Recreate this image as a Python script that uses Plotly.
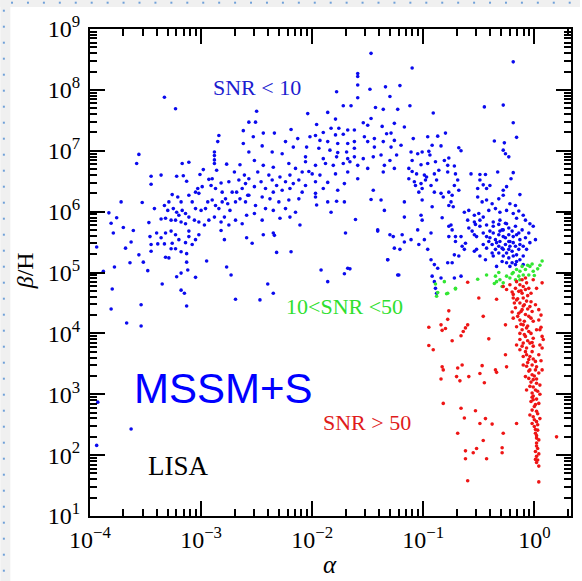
import plotly.graph_objects as go

# (log10 alpha, log10 beta/H)
blue_pts = [
    # upper-left sparse
    (-3.33,7.88),(-3.23,7.69),(-2.84,7.25),(-2.85,7.15),(-2.62,7.33),(-2.62,7.12),(-3.56,6.94),(-3.58,6.79),
    (-3.17,6.79),(-3.11,6.81),(-2.88,6.98),(-2.88,6.92),(-2.88,6.85),(-2.88,6.79),(-3.45,6.58),(-3.36,6.60),
    (-3.22,6.58),(-3.16,6.59),(-3.45,6.45),(-3.13,6.50),(-3.72,6.16),(-3.53,6.15),(-3.83,5.98),(-3.76,5.90),
    (-3.81,5.81),(-3.70,5.74),(-3.42,6.05),(-3.47,5.82),(-3.36,5.88),
    # left dense
    (-3.01,6.61),(-2.98,6.69),(-2.93,6.53),(-2.86,6.68),(-2.90,6.54),(-2.91,6.43),(-2.87,6.38),(-2.82,6.47),
    (-2.77,6.78),(-2.75,6.49),(-2.70,6.65),(-2.66,6.52),(-2.65,6.77),(-2.61,6.60),(-2.60,6.46),(-2.63,6.38),
    (-2.68,6.32),(-2.72,6.32),(-2.81,6.32),(-3.05,6.32),(-3.03,6.38),(-3.02,6.30),(-2.99,6.41),(-3.11,6.27),
    (-3.26,6.28),(-3.21,6.24),(-3.18,6.16),(-3.29,6.16),(-3.33,6.10),(-3.30,6.02),(-3.25,6.05),(-3.22,5.99),
    (-3.17,6.02),(-3.20,5.94),(-3.14,5.97),(-3.11,5.91),(-3.08,6.16),(-3.05,6.05),(-3.00,6.02),(-2.96,6.05),
    (-2.94,6.16),(-2.90,6.19),(-2.87,6.10),(-2.84,6.05),(-2.81,6.16),(-2.78,6.21),(-2.76,6.13),(-2.74,6.02),
    (-2.69,6.16),(-2.65,6.21),(-2.60,6.16),(-2.58,6.27),(-3.32,5.89),(-3.27,5.86),(-3.23,5.86),(-3.18,5.83),
    (-3.14,5.80),(-3.06,5.86),(-3.02,5.83),(-2.97,5.78),(-2.93,5.86),(-2.88,5.91),(-2.82,5.83),(-2.79,5.91),
    (-2.75,5.78),(-2.69,5.86),(-2.63,5.80),(-2.59,5.94),
    # lower-left
    (-3.79,5.65),(-3.61,5.69),(-3.46,5.59),(-3.40,5.65),(-3.36,5.57),(-3.32,5.65),(-3.27,5.68),(-3.23,5.62),
    (-3.26,5.48),(-3.20,5.54),(-3.14,5.49),(-3.11,5.59),(-3.08,5.46),(-3.05,5.54),(-3.02,5.62),(-3.11,5.68),
    (-3.45,5.46),(-3.39,5.47),(-3.33,5.47),(-3.45,5.35),(-3.27,5.39),(-3.32,5.25),(-3.29,5.24),(-3.13,5.31),
    (-3.18,5.34),(-3.23,5.39),(-3.94,5.42),(-3.68,5.40),(-3.63,5.50),(-3.56,5.29),(-3.52,5.17),(-3.78,5.09),
    (-3.64,5.16),(-3.88,5.02),(-3.48,5.03),(-3.35,4.81),(-3.22,4.93),(-3.18,4.99),(-3.12,5.04),(-3.13,5.17),
    (-3.05,4.92),(-2.95,5.19),(-3.18,4.71),(-3.15,4.66),(-3.80,4.73),(-3.13,4.45),(-3.54,4.47),(-3.81,4.40),
    (-3.67,4.17),(-3.54,4.12),(-2.77,5.09),(-2.73,4.96),(-2.69,4.56),(-2.79,5.54),(-2.82,5.69),(-2.59,5.57),
    (-3.93,2.87),(-3.63,2.43),(-3.94,2.16),
    # middle band
    (-1.47,8.60),(-1.59,8.27),(-1.59,8.22),(-1.59,8.08),(-1.48,8.01),(-1.78,7.97),(-1.34,8.05),(-1.21,8.07),
    (-1.30,7.89),(-1.59,7.87),(-1.72,7.74),(-1.65,7.74),(-1.43,7.71),(-1.36,7.68),(-1.23,7.68),(-2.50,7.65),
    (-2.04,7.61),(-1.86,7.63),(-1.79,7.52),(-1.47,7.53),(-2.57,7.47),(-2.51,7.47),(-1.96,7.43),(-1.54,7.46),
    (-1.50,7.42),(-1.37,7.40),(-1.26,7.45),(-1.17,7.39),(-1.83,7.37),(-1.76,7.37),(-1.68,7.34),(-1.62,7.34),
    (-2.19,7.35),(-1.90,7.30),(-1.79,7.26),(-1.72,7.27),(-1.33,7.28),(-1.29,7.29),(-2.44,7.29),(-2.34,7.29),
    (-2.02,7.23),(-1.97,7.25),(-1.53,7.23),(-1.44,7.20),(-2.53,7.23),(-2.13,7.20),(-1.93,7.17),(-1.86,7.15),
    (-1.77,7.12),(-1.68,7.12),(-1.62,7.15),(-1.50,7.15),(-1.36,7.15),(-1.26,7.17),(-2.45,7.08),(-2.24,7.15),
    (-2.17,7.06),(-2.05,7.06),(-1.94,7.04),(-1.84,7.01),(-1.77,6.97),(-1.69,6.98),(-1.62,7.04),(-1.44,7.06),
    (-1.29,7.06),(-1.20,7.09),(-2.57,6.98),(-2.36,6.98),(-2.27,6.95),(-2.06,6.90),(-1.90,6.87),(-1.78,6.90),
    (-1.68,6.87),(-1.62,6.90),(-1.54,6.87),(-1.45,6.90),(-1.38,6.93),(-1.30,6.84),(-1.24,6.93),(-2.52,6.84),
    (-2.44,6.76),(-2.35,6.73),(-2.21,6.79),(-2.15,6.71),(-2.06,6.82),(-1.97,6.76),(-1.88,6.79),(-1.81,6.76),
    (-1.72,6.79),(-1.66,6.82),(-1.59,6.76),(-1.50,6.71),(-1.35,6.76),(-1.26,6.71),(-1.36,6.65),(-2.49,6.65),
    (-2.39,6.60),(-2.29,6.57),(-2.20,6.60),(-2.09,6.65),(-2.03,6.66),(-2.00,6.62),(-1.93,6.60),(-1.79,6.62),
    (-1.68,6.65),(-2.57,6.54),(-2.46,6.49),(-2.36,6.52),(-2.32,6.43),(-2.24,6.49),(-2.17,6.46),(-2.12,6.52),
    (-2.06,6.43),(-1.97,6.49),(-1.86,6.48),(-1.71,6.46),(-1.59,6.54),(-2.52,6.41),(-2.42,6.38),(-2.35,6.32),
    (-2.27,6.35),(-2.20,6.38),(-2.09,6.32),(-1.97,6.30),(-1.90,6.38),(-1.77,6.35),(-1.45,6.35),(-2.57,6.27),
    (-2.45,6.24),(-2.38,6.21),(-2.30,6.16),(-2.21,6.19),(-2.12,6.21),(-1.97,6.24),(-1.86,6.16),(-1.78,6.17),
    (-1.71,6.16),(-1.47,6.20),(-1.38,6.19),(-1.17,6.16),(-2.51,6.10),(-2.42,6.05),(-2.35,6.02),(-2.24,6.05),
    (-2.15,5.99),(-1.96,6.11),(-1.83,5.99),(-1.35,6.02),(-2.52,5.97),(-2.45,5.86),(-2.29,5.89),(-2.20,5.91),
    (-2.11,5.78),(-1.61,5.87),(-1.17,5.91),
    # middle lower
    (-2.44,5.62),(-2.35,5.65),(-2.34,5.61),(-2.54,5.48),(-2.32,5.33),(-2.19,5.34),(-1.70,5.65),(-1.41,5.68),
    (-1.30,5.62),(-1.19,5.62),(-1.26,5.40),(-1.21,5.38),(-1.17,5.50),(-1.32,5.21),(-1.92,5.04),(-1.86,4.85),
    (-1.71,4.98),(-1.68,5.07),(-1.66,5.06),(-1.22,4.96),(-2.40,4.81),(-2.35,4.66),(-2.47,4.55),
    # right upper
    (-0.19,8.46),(-1.10,8.36),(-1.12,7.74),(-0.91,7.62),(-0.45,7.72),(-0.28,7.75),(-0.19,7.46),(-0.16,7.22),
    (-0.36,7.16),(-0.27,7.13),(-0.28,7.01),(-0.26,6.95),(-0.23,6.90),(-1.09,7.20),(-0.96,7.23),(-0.87,7.24),
    (-0.80,7.29),(-0.84,7.08),(-0.92,7.09),(-0.68,7.05),(-0.66,7.00),(-1.11,6.98),(-1.05,6.95),(-1.01,6.98),
    (-0.95,6.99),(-0.94,6.93),(-0.77,6.88),(-0.81,6.84),(-1.10,6.84),(-1.02,6.77),(-0.96,6.79),(-0.89,6.82),
    (-0.78,6.76),(-0.72,6.75),(-1.13,6.71),(-1.10,6.66),(-1.06,6.62),(-0.99,6.60),(-0.97,6.57),(-0.90,6.62),
    (-0.86,6.68),(-0.78,6.65),(-0.71,6.62),(-0.57,6.62),(-0.49,6.61),(-0.44,6.61),(-0.33,6.65),(-0.19,6.64),
    (-0.21,6.54),(-1.13,6.54),(-1.08,6.49),(-1.07,6.43),(-1.02,6.46),(-0.98,6.52),(-0.93,6.43),(-0.88,6.52),
    (-0.69,6.52),(-0.72,6.43),(-0.49,6.52),(-0.46,6.44),(-0.43,6.38),(-0.40,6.43),(-0.51,6.38),(-0.28,6.35),
    (-0.25,6.41),(-1.01,6.38),(-1.04,6.32),(-0.90,6.32),(-0.84,6.30),(-0.77,6.32),(-0.74,6.27),(-0.68,6.35),
    (-0.82,6.24),(-0.75,6.16),(-0.73,6.08),(-0.77,6.10),(-1.01,6.19),(-0.92,6.08),(-0.51,6.24),(-0.47,6.16),
    (-0.43,6.19),(-0.38,6.13),(-0.32,6.21),(-0.28,6.27),(-0.22,6.13),(-0.17,6.10),(-0.13,6.28),(-0.41,6.02),
    (-0.35,6.05),(-0.31,5.99),(-0.25,6.02),(-0.19,5.97),(-0.14,6.01),(-0.10,5.94),(-0.63,5.99),(-0.59,6.02),
    (-0.54,5.94),(-0.50,5.97),(-0.46,5.91),(-0.60,5.86),(-0.54,5.83),(-0.49,5.86),(-0.43,5.78),(-0.37,5.83),
    (-0.31,5.86),(-0.25,5.80),(-0.16,5.89),(-0.08,5.86),(-0.04,5.80),(-1.02,5.94),(-1.01,5.86),(-0.83,5.90),
    (-0.75,5.78),
    # right dense cluster
    (-0.53,5.79),(-0.49,5.76),(-0.37,5.76),(-0.32,5.79),(-0.29,5.70),(-0.26,5.81),(-0.23,5.73),(-0.20,5.68),
    (-0.17,5.76),(-0.14,5.65),(-0.11,5.70),(-0.08,5.57),(-0.13,5.54),(-0.19,5.59),(-0.23,5.62),(-0.28,5.59),
    (-0.32,5.62),(-0.37,5.65),(-0.40,5.68),(-0.43,5.59),(-0.46,5.65),(-0.52,5.59),(-0.54,5.62),(-0.35,5.54),
    (-0.31,5.51),(-0.26,5.46),(-0.22,5.51),(-0.17,5.43),(-0.14,5.38),(-0.10,5.43),(-0.04,5.49),(-0.23,5.38),
    (-0.28,5.38),(-0.32,5.43),(-0.38,5.46),(-0.43,5.40),(-0.52,5.38),(-0.54,5.35),(-0.49,5.27),(-0.44,5.21),
    (-0.37,5.27),(-0.32,5.32),(-0.28,5.27),(-0.23,5.24),(-0.19,5.27),(-0.16,5.18),(-0.20,5.16),(-0.25,5.16),
    (-0.29,5.18),(-0.34,5.10),(-0.22,5.10),(-0.17,5.13),(-0.13,5.21),(-0.10,5.13),(-0.56,5.68),(-0.59,5.73),
    (-0.01,5.76),(0.01,5.54),(-0.05,5.65),(-0.77,5.76),(-0.74,5.70),(-0.77,5.59),(-0.71,5.51),(-0.66,5.59),
    (-0.65,5.43),(-0.63,5.38),(-0.68,5.27),(-0.96,5.38),(-0.93,5.21),(-0.90,5.13),(-0.87,5.07),(-0.92,4.94),
    (-0.90,4.85),(-0.84,4.91),(-0.72,4.91),(-0.66,4.94),(-1.23,4.96),(-1.32,5.21),(-0.99,5.54),(-1.27,5.59),
    (-1.11,5.54),(-1.05,5.70),(-0.93,5.65),(-1.41,5.70),
    (-0.40,5.57),(-0.34,5.49),(-0.29,5.40),(-0.25,5.32),(-0.20,5.35),(-0.16,5.29),(-0.26,5.57),(-0.22,5.43),
    (-0.19,5.49),(-0.35,5.38),(-0.38,5.32),(-0.46,5.46),(-0.41,5.51),(-0.31,5.68),(-0.16,5.62),(-0.13,5.46),
    (-0.07,5.38),(-0.10,5.27),(-0.23,5.51),(-0.28,5.70),
    (-1.04,5.46),(-0.78,5.16),(-0.74,5.16),(-0.72,5.29),(-0.62,5.48),(-0.89,4.74),(-0.88,4.66),(-0.71,5.59),
]

green_pts = [
    (-0.88,4.61),(-0.87,4.67),(-0.79,4.65),(-0.71,4.73),(-0.81,4.85),(-0.89,4.81),(-0.51,4.89),(-0.43,4.96),
    (-0.35,4.94),(-0.34,4.85),(-0.31,4.88),(-0.28,4.83),(-0.32,5.00),(-0.25,4.94),(-0.19,5.00),(-0.16,5.05),
    (-0.13,5.02),(-0.11,5.10),(-0.08,5.05),(-0.04,5.10),(-0.01,5.02),(0.07,5.19),(-0.14,4.94),(-0.17,4.88),
    (-0.22,4.91),(-0.13,4.88),(-0.05,4.96),(-0.10,4.96),(-0.29,4.77),(-0.36,4.82),(-0.02,5.14),(0.03,5.06),
    (0.05,5.12),(-0.06,5.12),(-0.20,4.98),(0.00,4.95),(-0.78,4.66),(-0.71,4.74),
]

red_pts = [
    # dense vertical band near alpha ~ 1
    (-0.16,4.85),(-0.11,4.88),(-0.08,4.91),(-0.13,4.80),(-0.10,4.77),(-0.07,4.83),(-0.17,4.74),(-0.14,4.69),
    (-0.11,4.66),(-0.08,4.72),(-0.05,4.74),(-0.03,4.66),(-0.28,4.77),(-0.25,4.72),(-0.19,4.64),(-0.01,4.88),
    (0.07,4.83),(0.02,4.74),(-0.16,4.55),(-0.13,4.50),(-0.10,4.58),(-0.07,4.53),(-0.04,4.44),(-0.11,4.39),
    (-0.08,4.31),(-0.14,4.33),(-0.17,4.42),(-0.13,4.22),(-0.10,4.14),(-0.05,4.28),(-0.02,4.36),(0.01,4.47),
    (0.04,4.39),(-0.07,4.09),(-0.11,4.06),(-0.16,4.11),(-0.19,4.25),(-0.19,4.58),(-0.01,4.20),(0.04,4.22),
    (0.05,4.06),(-0.13,4.00),(-0.08,3.95),(-0.05,4.03),(-0.10,3.84),(-0.07,3.76),(-0.11,3.79),(-0.16,3.81),
    (-0.04,3.84),(-0.01,3.92),(-0.02,3.70),(-0.07,3.65),(-0.10,3.62),(-0.05,3.57),(0.01,3.54),(0.05,3.81),
    (0.07,3.76),(0.08,3.90),(0.04,3.65),(-0.13,3.73),(-0.01,3.79),(0.02,4.06),(-0.07,3.46),(-0.04,3.40),
    (-0.02,3.32),(-0.01,3.24),(-0.05,3.26),(-0.08,3.29),(-0.04,3.13),(0.01,3.07),(-0.02,3.02),(0.02,3.18),
    (0.05,3.15),(0.04,3.35),(0.01,3.40),(-0.10,3.48),(-0.07,3.07),(0.07,3.40),(-0.01,2.91),(0.01,2.83),
    (-0.02,2.74),(0.02,2.72),(-0.01,2.63),(0.02,2.55),(-0.02,2.52),(0.00,2.47),(0.03,2.41),(-0.04,2.66),
    (0.04,2.85),(-0.01,2.97),(-0.03,2.88),(0.01,2.36),(0.02,2.28),(0.02,2.20),(0.03,2.11),(0.01,2.06),
    (0.02,1.98),(0.03,1.92),(0.01,1.93),(0.04,1.82),(0.04,1.56),(0.20,2.30),
    (-0.12,4.70),(-0.06,4.62),(-0.15,4.57),(-0.09,4.47),(-0.03,4.52),(-0.12,4.36),(-0.06,4.40),(-0.15,4.28),
    (-0.09,4.20),(-0.03,4.25),(-0.12,4.15),(-0.06,4.12),(-0.03,4.00),(-0.09,3.98),(-0.13,3.90),(-0.06,3.88),
    (-0.02,3.85),(-0.08,3.70),(-0.04,3.62),(-0.01,3.58),(-0.06,3.52),(-0.02,3.48),(0.02,3.45),(-0.05,3.38),
    (0.00,3.30),(-0.03,3.20),(0.02,3.25),(-0.01,3.12),(0.03,3.05),(-0.02,2.95),(0.02,2.92),(0.00,2.80),
    (0.03,2.68),(0.00,2.58),(0.03,2.50),(0.01,2.42),(0.02,2.32),(0.04,2.25),(0.02,2.15),(0.04,2.02),
    (0.02,1.88),(-0.10,4.45),(-0.18,4.50),(-0.20,4.35),(0.06,4.30),(0.06,4.10),(0.07,3.95),(0.06,3.55),
    (0.05,3.00),(0.05,2.60),(-0.22,4.80),(-0.20,4.68),
    # scattered
    (-0.60,4.84),(-0.50,4.58),(-0.34,4.56),(-0.46,4.28),(-0.77,4.37),(-0.78,4.23),(-0.84,4.14),(-0.95,4.10),
    (-0.83,4.05),(-0.80,4.08),(-0.95,3.80),(-0.91,3.73),(-0.60,4.14),(-0.62,4.09),(-0.64,4.03),(-0.66,3.96),
    (-0.74,3.88),(-0.41,3.91),(-0.26,4.14),(-0.26,3.65),(-0.25,3.45),(-0.35,3.40),(-0.34,3.36),(-0.47,3.47),
    (-0.49,3.34),(-0.45,3.19),(-0.59,3.29),(-0.65,3.48),(-0.69,3.43),(-0.70,3.29),(-0.67,3.22),(-0.83,3.45),
    (-0.82,3.40),(-0.84,3.25),(-0.82,2.85),(-0.66,2.77),(-0.63,2.61),(-0.53,2.73),(-0.49,2.52),(-0.44,2.60),
    (-0.38,2.51),(-0.28,2.36),(-0.16,2.52),(-0.69,2.36),(-0.46,2.24),(-0.52,2.11),(-0.55,2.04),(-0.62,2.07),
    (-0.62,1.94),(-0.43,1.94),(-0.29,2.12),(-0.29,2.04),(-0.60,1.58),
]

x_decades = [-4, -3, -2, -1, 0]
y_decades = [1, 2, 3, 4, 5, 6, 7, 8, 9]
labels = ["SNR < 10", "10<SNR <50", "SNR > 50", "MSSM+S", "LISA"]
x_title = "<i>α</i>"
y_title = "<i>β</i>/H"


def unzip(pts):
    return [10 ** a for a, b in pts], [10 ** b for a, b in pts]


def dec_text(d):
    return "10<sup>" + (("\u2212" + str(-d)) if d < 0 else str(d)) + "</sup>"


fig = go.Figure()
for pts, col in [(blue_pts, "#0a0aee"), (green_pts, "#33e633"), (red_pts, "#ee1515")]:
    xs, ys = unzip(pts)
    fig.add_trace(go.Scatter(x=xs, y=ys, mode="markers",
                             marker=dict(size=3.6, color=col, line=dict(width=0)),
                             hoverinfo="skip"))
# empty trace so that the minor-tick overlay axes are drawn
fig.add_trace(go.Scatter(x=[], y=[], xaxis="x2", yaxis="y2", mode="markers", hoverinfo="skip"))

W, H = 582, 581
L, R, T, B = 90, 9, 29, 65
PW, PH = W - L - R, H - T - B
XR = [-4, 0.33]
YR = [1, 9]


def px(xp):
    return (xp - L) / PW


def py(yp):
    return (H - B - yp) / PH


x_minor = [k * 10.0 ** d for d in x_decades for k in range(2, 10) if k * 10.0 ** d < 10 ** XR[1]]
y_minor = [k * 10.0 ** d for d in y_decades[:-1] for k in range(2, 10)]

tickfont = dict(family="Liberation Serif", size=24, color="black")
major = dict(
    type="log", tickmode="array", showline=True, linecolor="black", linewidth=2, mirror="ticks",
    ticks="inside", ticklen=15, tickwidth=2, tickcolor="black",
    showgrid=False, zeroline=False, tickfont=tickfont,
)
minor = dict(
    type="log", tickmode="array", showline=True, linecolor="black", linewidth=2, mirror="ticks",
    ticks="inside", ticklen=7, tickwidth=1.5, tickcolor="black",
    showgrid=False, zeroline=False, showticklabels=False,
)

fig.update_layout(
    width=W, height=H,
    margin=dict(l=L, r=R, t=T, b=B, pad=0),
    paper_bgcolor="white", plot_bgcolor="white",
    showlegend=False,
    xaxis=dict(range=XR, tickvals=[10.0 ** d for d in x_decades],
               ticktext=[dec_text(d) for d in x_decades], ticklabelstandoff=1, **major),
    yaxis=dict(range=YR, tickvals=[10.0 ** d for d in y_decades],
               ticktext=[dec_text(d) for d in y_decades], ticklabelstandoff=3, **major),
    xaxis2=dict(range=XR, tickvals=x_minor, overlaying="x", anchor="y2", side="bottom", **minor),
    yaxis2=dict(range=YR, tickvals=y_minor, overlaying="y", anchor="x2", side="left", **minor),
)

serif = "Liberation Serif"
ann = [
    dict(x=-2.50, y=8.04, text=labels[0], font=dict(family=serif, size=22, color="#1c1cd0")),
    dict(x=-1.705, y=4.44, text=labels[1], font=dict(family=serif, size=22, color="#2fdf2f")),
    dict(x=-1.508, y=2.53, text=labels[2], font=dict(family=serif, size=22, color="#e01b1b")),
    dict(x=-2.794, y=3.10, text=labels[3], font=dict(family="Liberation Sans", size=42, color="#0000ff")),
    dict(x=-3.20, y=1.82, text=labels[4], font=dict(family=serif, size=27, color="black")),
]
for a in ann:
    fig.add_annotation(xref="x", yref="y", showarrow=False, xanchor="center", yanchor="middle", **a)

fig.add_annotation(xref="paper", yref="paper", x=px(25), y=py(271), text=y_title, textangle=-90,
                   showarrow=False, xanchor="center", yanchor="middle",
                   font=dict(family=serif, size=24, color="black"))
fig.add_annotation(xref="paper", yref="paper", x=px(331), y=py(564), text=x_title,
                   showarrow=False, xanchor="center", yanchor="middle",
                   font=dict(family=serif, size=25, color="black"))

# light grey rulers along the left and top edges of the screenshot
shapes = [
    dict(type="rect", xref="paper", yref="paper", x0=px(0), x1=px(10), y0=py(H), y1=py(0),
         fillcolor="#f0f0f0", line=dict(width=0), layer="below"),
    dict(type="rect", xref="paper", yref="paper", x0=px(0), x1=px(W), y0=py(7), y1=py(0),
         fillcolor="#f0f0f0", line=dict(width=0), layer="below"),
]
k = 0
while 10.7 + 16 * k < H:
    yc = 10.7 + 16 * k
    shapes.append(dict(type="rect", xref="paper", yref="paper", x0=px(2.5), x1=px(4.5),
                       y0=py(yc + 1), y1=py(yc - 1), fillcolor="#6fa0d8", line=dict(width=0)))
    k += 1
k = 0
while 11.7 + 16 * k < W:
    xc = 11.7 + 16 * k
    shapes.append(dict(type="rect", xref="paper", yref="paper", x0=px(xc - 1), x1=px(xc + 1),
                       y0=py(3.7), y1=py(1.7), fillcolor="#6fa0d8", line=dict(width=0)))
    k += 1
fig.update_layout(shapes=shapes)

fig.write_html("out.html")
